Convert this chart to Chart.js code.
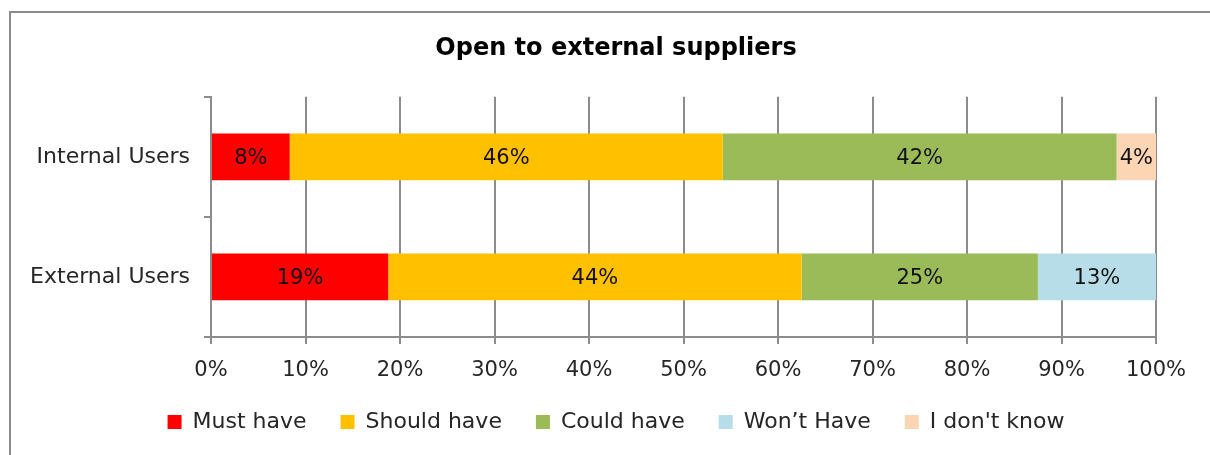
<!DOCTYPE html>
<html>
<head>
<meta charset="utf-8">
<script src="https://cdn.jsdelivr.net/npm/chart.js@4"></script>
<style>
  html, body { margin: 0; padding: 0; background: #fff; overflow: hidden; }
  canvas { display: block; }
</style>
</head>
<body>
<canvas id="chart1" width="1210" height="455"></canvas>
<script>
let categories = ['Internal Users', 'External Users'];
let seriesNames = ['Must have', 'Should have', 'Could have', 'Won’t Have', "I don't know"];
let mustHave = [8.33, 18.75];
let shouldHave = [45.83, 43.75];
let couldHave = [41.67, 25];
let wontHave = [0, 12.5];
let dontKnow = [4.17, 0];
let tickValues = [0, 10, 20, 30, 40, 50, 60, 70, 80, 90, 100];

let colors = ['#ff0000', '#ffc000', '#9bbb59', '#b7dee8', '#fcd5b5'];
let series = [mustHave, shouldHave, couldHave, wontHave, dontKnow];
let gridColor = '#8c8c8c';
let textColor = '#262626';

let data1 = {
  labels: categories,
  datasets: []
};
for (let i = 0; i < series.length; i++) {
  data1.datasets.push({
    label: seriesNames[i],
    data: series[i],
    backgroundColor: colors[i],
    borderWidth: 0,
    categoryPercentage: 1,
    barPercentage: 0.39
  });
}

// outer frame, open on the right and bottom
let frame = {
  id: 'frame',
  beforeDraw(chart) {
    let ctx = chart.ctx;
    ctx.save();
    ctx.strokeStyle = gridColor;
    ctx.lineWidth = 2;
    ctx.beginPath();
    ctx.moveTo(10, chart.height);
    ctx.lineTo(10, 12);
    ctx.lineTo(chart.width, 12);
    ctx.stroke();
    ctx.restore();
  }
};

// percentage text in the middle of each segment
let barLabels = {
  id: 'barLabels',
  afterDatasetsDraw(chart) {
    let ctx = chart.ctx;
    ctx.save();
    ctx.font = '21px "DejaVu Sans"';
    ctx.fillStyle = '#111';
    ctx.textAlign = 'center';
    ctx.textBaseline = 'middle';
    chart.data.datasets.forEach((ds, i) => {
      let meta = chart.getDatasetMeta(i);
      meta.data.forEach((bar, j) => {
        let v = ds.data[j];
        if (!v) return;
        let p = bar.getCenterPoint();
        ctx.fillText(Math.round(v) + '%', p.x, p.y + 2);
      });
    });
    ctx.restore();
  }
};

let ctx1 = document.getElementById('chart1');
let chart1 = new Chart(ctx1, {
  type: 'bar',
  data: data1,
  plugins: [frame, barLabels],
  options: {
    responsive: false,
    animation: false,
    indexAxis: 'y',
    layout: {
      padding: { left: 22, right: 0, top: 0, bottom: 12 }
    },
    plugins: {
      title: {
        display: true,
        text: 'Open to external suppliers',
        color: '#000',
        font: { family: 'DejaVu Sans', size: 24, weight: 'bold' },
        padding: { top: 34, bottom: 34 }
      },
      legend: {
        position: 'bottom',
        labels: {
          color: textColor,
          font: { family: 'DejaVu Sans', size: 22 },
          boxWidth: 14,
          boxHeight: 14,
          padding: 34
        }
      },
      tooltip: { enabled: false }
    },
    scales: {
      x: {
        stacked: true,
        min: 0,
        max: 100,
        afterBuildTicks: (scale) => {
          scale.ticks = tickValues.map(v => ({ value: v }));
        },
        afterFit: (scale) => { scale.height = 40; },
        ticks: {
          color: textColor,
          font: { family: 'DejaVu Sans', size: 21 },
          padding: 14,
          callback: (v) => v + '%'
        },
        grid: {
          color: gridColor,
          lineWidth: 2,
          tickLength: 7
        },
        border: { color: gridColor, width: 2 }
      },
      y: {
        stacked: true,
        afterFit: (scale) => { scale.width = 189; },
        ticks: {
          color: textColor,
          font: { family: 'DejaVu Sans', size: 22 },
          padding: 14
        },
        grid: {
          drawOnChartArea: false,
          color: gridColor,
          lineWidth: 2,
          tickLength: 7
        },
        border: { color: gridColor, width: 2 }
      },
      // empty strip on the right so the plot ends at the 100% line
      spacer: {
        type: 'linear',
        position: 'right',
        display: true,
        afterFit: (scale) => { scale.width = 54; },
        ticks: { display: false },
        grid: { display: false },
        border: { display: false }
      }
    }
  }
});
</script>
</body>
</html>
